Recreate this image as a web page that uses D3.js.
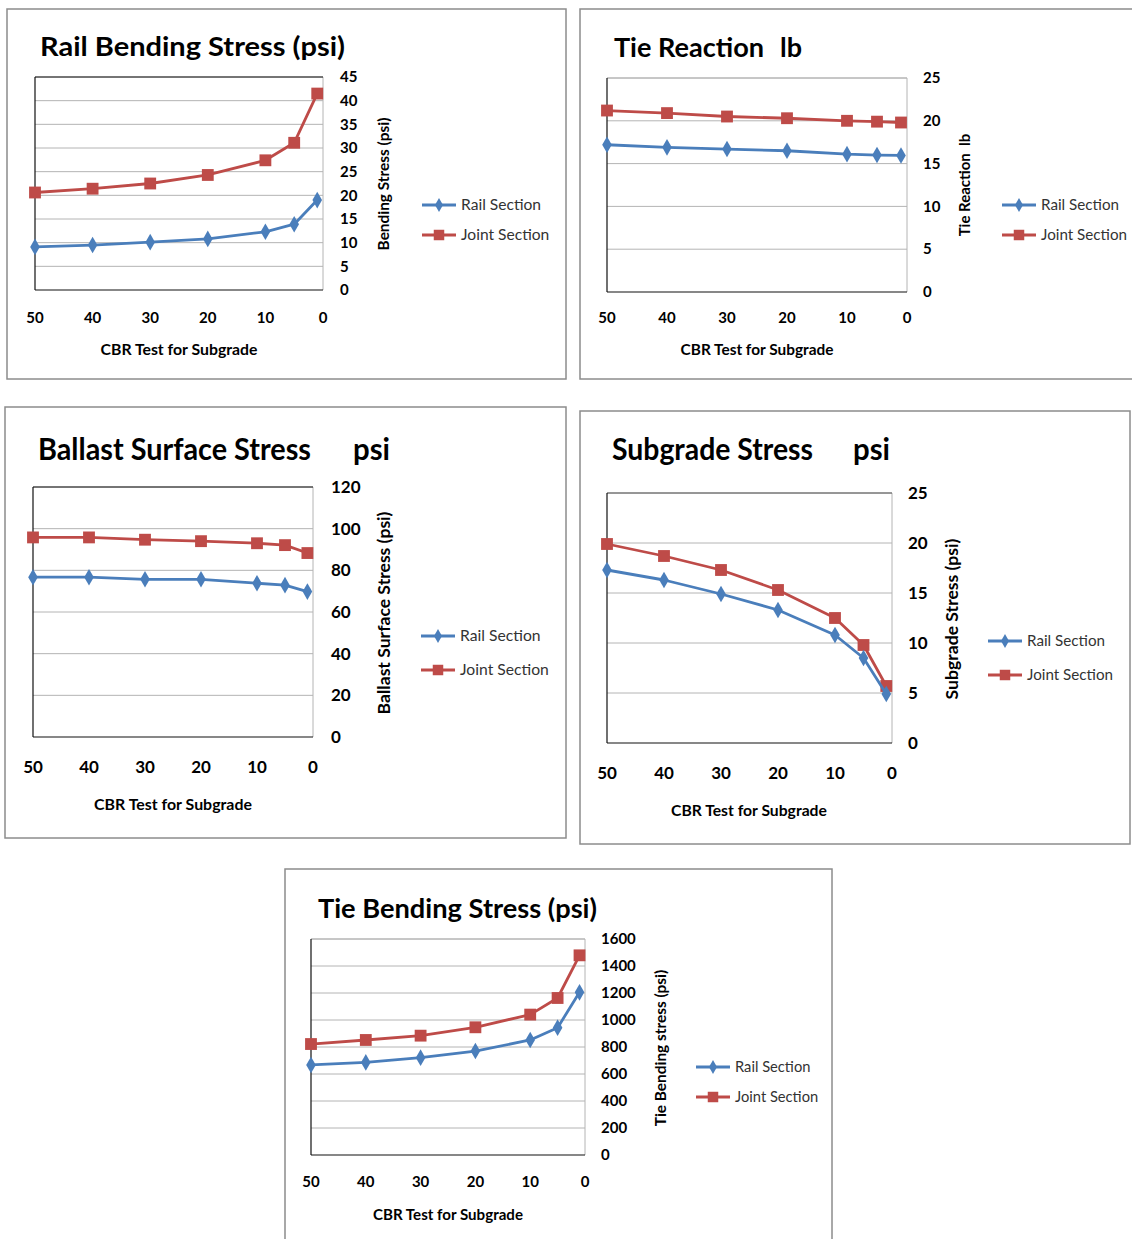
<!DOCTYPE html>
<html>
<head>
<meta charset="utf-8">
<script src="https://cdn.jsdelivr.net/npm/d3@7"></script>
<style>
  body { margin: 0; background: #fff; }
  text { font-family: Lato, "Open Sans", sans-serif; white-space: pre; }
</style>
</head>
<body>
<svg id="chart" width="1132" height="1239"></svg>
<script>
// CBR values on the x axis
var cbr = [50, 40, 30, 20, 10, 5, 1];
var xTicks = [50, 40, 30, 20, 10, 0];

// series values
var railBendRail  = [9.1, 9.5, 10.1, 10.8, 12.3, 13.9, 19.0];
var railBendJoint = [20.6, 21.4, 22.5, 24.3, 27.4, 31.1, 41.5];

var tieReactRail  = [17.2, 16.9, 16.7, 16.5, 16.1, 16.0, 15.95];
var tieReactJoint = [21.2, 20.9, 20.5, 20.3, 20.0, 19.9, 19.8];

var ballastRail  = [76.7, 76.7, 75.7, 75.7, 73.8, 72.9, 69.8];
var ballastJoint = [95.8, 95.8, 94.7, 94.0, 93.0, 92.1, 88.3];

var subgradeRail  = [17.3, 16.3, 14.9, 13.3, 10.8, 8.5, 4.9];
var subgradeJoint = [19.9, 18.7, 17.3, 15.3, 12.5, 9.8, 5.7];

var tieBendRail  = [667, 686, 721, 770, 852, 943, 1205];
var tieBendJoint = [822, 852, 884, 946, 1040, 1163, 1479];

var seriesNames = ["Rail Section", "Joint Section"];
var blue = "#4a7ebb", red = "#be4b48";

var svg = d3.select("#chart");
svg.append("rect").attr("width", 1132).attr("height", 1239).attr("fill", "#fff");

function drawPanel(p) {
  // outer frame
  svg.append("rect")
      .attr("x", p.frame[0]).attr("y", p.frame[1])
      .attr("width", p.frame[2]).attr("height", p.frame[3])
      .attr("fill", "none").attr("stroke", "#8c8c8c").attr("stroke-width", 1.5);

  var x = d3.scaleLinear().domain([50, 0]).range([p.plot[0], p.plot[1]]);
  var y = d3.scaleLinear().domain([0, p.yMax]).range([p.plot[3], p.plot[2]]);
  var yTicks = d3.range(0, p.yMax + p.yStep / 2, p.yStep);

  // gridlines
  svg.append("g").selectAll("line")
      .data(yTicks.slice(1))
    .enter().append("line")
      .attr("x1", p.plot[0]).attr("x2", p.plot[1])
      .attr("y1", function(d) { return y(d); })
      .attr("y2", function(d) { return y(d); })
      .attr("stroke", "#b4b4b4").attr("stroke-width", 1);

  // plot border
  svg.append("line").attr("x1", p.plot[1]).attr("x2", p.plot[1])
      .attr("y1", p.plot[2]).attr("y2", p.plot[3]).attr("stroke", "#b4b4b4");
  svg.append("line").attr("x1", p.plot[0]).attr("x2", p.plot[1])
      .attr("y1", p.plot[2]).attr("y2", p.plot[2]).attr("stroke", p.topColor);
  svg.append("line").attr("x1", p.plot[0]).attr("x2", p.plot[0])
      .attr("y1", p.plot[2]).attr("y2", p.plot[3]).attr("stroke", "#111").attr("stroke-width", 1.2);
  svg.append("line").attr("x1", p.plot[0]).attr("x2", p.plot[1])
      .attr("y1", p.plot[3]).attr("y2", p.plot[3]).attr("stroke", "#111").attr("stroke-width", 1.2);

  // y tick labels (right side)
  svg.append("g").selectAll("text")
      .data(yTicks)
    .enter().append("text")
      .attr("x", p.plot[1] + p.yLabelGap)
      .attr("y", function(d) { return y(d); })
      .attr("dy", "0.35em")
      .style("font-size", p.tickSize + "px").style("font-weight", "bold")
      .text(function(d) { return d; });

  // x tick labels
  svg.append("g").selectAll("text")
      .data(xTicks)
    .enter().append("text")
      .attr("x", function(d) { return x(d); })
      .attr("y", p.xLabelY)
      .attr("text-anchor", "middle")
      .style("font-size", p.tickSize + "px").style("font-weight", "bold")
      .text(function(d) { return d; });

  // titles
  p.titles.forEach(function(t) {
    svg.append("text")
        .attr("x", t[1]).attr("y", p.titleY)
        .style("font-size", p.titleSize + "px").style("font-weight", "bold")
        .attr("textLength", t[2]).attr("lengthAdjust", "spacingAndGlyphs")
        .text(t[0]);
  });

  svg.append("text")
      .attr("x", p.xTitle[0]).attr("y", p.xTitle[1])
      .attr("text-anchor", "middle")
      .style("font-size", p.xTitle[2] + "px").style("font-weight", "bold")
      .text("CBR Test for Subgrade");

  svg.append("text")
      .attr("transform", "translate(" + p.yTitle[0] + "," + p.yTitle[1] + ") rotate(-90)")
      .attr("text-anchor", "middle")
      .style("font-size", p.yTitle[3] + "px").style("font-weight", "bold")
      .text(p.yTitle[2]);

  // lines and markers
  var line = d3.line()
      .x(function(d, i) { return x(cbr[i]); })
      .y(function(d) { return y(d); });

  [[p.joint, red], [p.rail, blue]].forEach(function(s, k) {
    svg.append("path")
        .datum(s[0])
        .attr("d", line)
        .attr("fill", "none")
        .attr("stroke", s[1])
        .attr("stroke-width", 2.8)
        .attr("stroke-linejoin", "round");
    var sym = k === 0 ? d3.symbolSquare : d3.symbolDiamond;
    var size = k === 0 ? 140 : 80;
    svg.append("g").selectAll("path")
        .data(s[0])
      .enter().append("path")
        .attr("transform", function(d, i) { return "translate(" + x(cbr[i]) + "," + y(d) + ")"; })
        .attr("d", d3.symbol().type(sym).size(size))
        .attr("fill", s[1]);
  });

  // legend
  var lg = p.legend;
  [[blue, d3.symbolDiamond, 55], [red, d3.symbolSquare, 110]].forEach(function(s, i) {
    var ly = lg[1] + i * lg[2];
    svg.append("line")
        .attr("x1", lg[0]).attr("x2", lg[0] + 34)
        .attr("y1", ly).attr("y2", ly)
        .attr("stroke", s[0]).attr("stroke-width", 2.8);
    svg.append("path")
        .attr("transform", "translate(" + (lg[0] + 17) + "," + ly + ")")
        .attr("d", d3.symbol().type(s[1]).size(s[2]))
        .attr("fill", s[0]);
    svg.append("text")
        .attr("x", lg[0] + 39).attr("y", ly)
        .attr("dy", "0.35em")
        .style("font-size", lg[3] + "px").style("fill", "#333")
        .text(seriesNames[i]);
  });
}

drawPanel({
  frame: [7, 9, 559, 370], plot: [35, 323, 77, 290], yMax: 45, yStep: 5,
  rail: railBendRail, joint: railBendJoint, topColor: "#111",
  tickSize: 15, yLabelGap: 17, xLabelY: 323,
  titleY: 56, titleSize: 27, titles: [["Rail Bending Stress (psi)", 40, 305]],
  xTitle: [179, 355, 15.8], yTitle: [389, 184, "Bending Stress (psi)", 15.4],
  legend: [422, 205, 30, 15.6]
});

drawPanel({
  frame: [580, 9, 560, 370], plot: [607, 907, 78, 292], yMax: 25, yStep: 5,
  rail: tieReactRail, joint: tieReactJoint, topColor: "#b4b4b4",
  tickSize: 15, yLabelGap: 16, xLabelY: 323,
  titleY: 57, titleSize: 27, titles: [["Tie Reaction", 614, 150], ["lb", 780, 22]],
  xTitle: [757, 355, 15.4], yTitle: [970, 185, "Tie Reaction  lb", 15],
  legend: [1002, 205, 30, 15.2]
});

drawPanel({
  frame: [5, 407, 561, 431], plot: [33, 313, 487, 737], yMax: 120, yStep: 20,
  rail: ballastRail, joint: ballastJoint, topColor: "#111",
  tickSize: 17, yLabelGap: 18, xLabelY: 773,
  titleY: 460, titleSize: 31, titles: [["Ballast Surface Stress", 38, 273], ["psi", 353, 37]],
  xTitle: [173, 810, 15.9], yTitle: [390, 613, "Ballast Surface Stress (psi)", 17.6],
  legend: [421, 636, 34, 15.7]
});

drawPanel({
  frame: [580, 411, 550, 433], plot: [607, 892, 493, 743], yMax: 25, yStep: 5,
  rail: subgradeRail, joint: subgradeJoint, topColor: "#555",
  tickSize: 17, yLabelGap: 16, xLabelY: 779,
  titleY: 460, titleSize: 31, titles: [["Subgrade Stress", 612, 201], ["psi", 853, 37]],
  xTitle: [749, 816, 15.7], yTitle: [958, 619, "Subgrade Stress (psi)", 17.6],
  legend: [988, 641, 34, 15.2]
});

drawPanel({
  frame: [285, 869, 547, 380], plot: [311, 585, 939, 1155], yMax: 1600, yStep: 200,
  rail: tieBendRail, joint: tieBendJoint, topColor: "#b4b4b4",
  tickSize: 15, yLabelGap: 16, xLabelY: 1187,
  titleY: 918, titleSize: 27, titles: [["Tie Bending Stress (psi)", 318, 279]],
  xTitle: [448, 1220, 15.1], yTitle: [666, 1048, "Tie Bending stress (psi)", 15.4],
  legend: [696, 1067, 30, 14.7]
});
</script>
</body>
</html>
